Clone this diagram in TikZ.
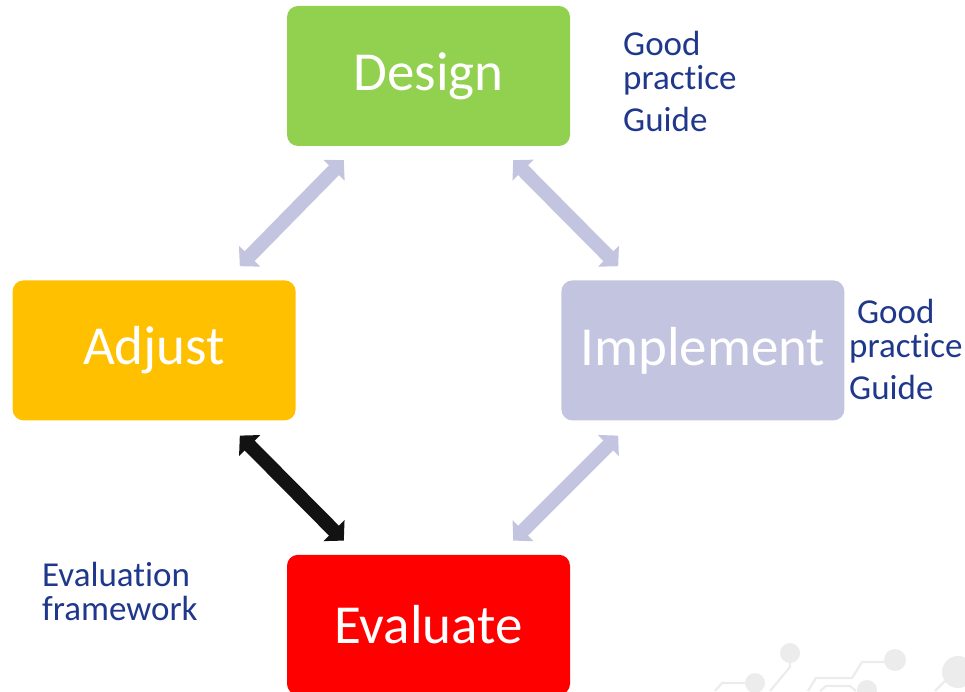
\documentclass[tikz,border=0pt]{standalone}
\usepackage{fontspec}
\setmainfont{Carlito}[Ligatures=NoCommon]
\usetikzlibrary{positioning, arrows.meta}

\definecolor{designgreen}{RGB}{146,208,80}
\definecolor{adjustorange}{RGB}{255,192,0}
\definecolor{implementlilac}{RGB}{195,196,224}
\definecolor{evaluatered}{RGB}{255,0,0}
\definecolor{linklilac}{RGB}{195,197,224}
\definecolor{notesblue}{RGB}{32,56,140}
\definecolor{tracegrey}{RGB}{236,236,236}

\tikzset{
  stage/.style={rectangle, rounded corners=11pt, minimum width=283pt, minimum height=140pt,
    inner sep=0pt, text=white, font=\fontsize{55}{60}\selectfont},
  link/.style={line width=14pt, draw=linklilac,
    {Triangle[length=14pt,width=29pt]}-{Triangle[length=14pt,width=29pt]}},
  note/.style={align=left, text=notesblue, inner sep=0pt, anchor=base west,
    font=\fontsize{35}{34}\selectfont},
  trace/.style={draw=tracegrey, line width=2.2pt},
  pad/.style={fill=tracegrey, draw=none}
}

\begin{document}
\begin{tikzpicture}[x=1pt, y=1pt]
        \useasboundingbox (0,0) rectangle (965,691);

        % faint circuit in the corner
        \draw[trace] (715,0) -- (722,8) -- (745,8);
        \draw[trace] (790,38) -- (790,24) -- (770,0);
        \draw[trace] (808,0) -- (816,13) -- (852,13) -- (862,29) -- (887,29);
        \draw[trace] (820,0) -- (826,5) -- (850,5) -- (856,0);
        \draw[trace] (935,0) -- (945,10);
        \fill[pad] (790,38) circle (10);
        \fill[pad] (895,31) circle (11);
        \fill[pad] (755,8) circle (10);
        \fill[pad] (958,19) circle (16);
        \fill[pad] (867,1) circle (10);

        \node[stage, fill=designgreen] (design) at (428.5,615) {Design};
        \node[stage, fill=adjustorange, below left=134pt and -9pt of design] (adjust) {Adjust};
        \node[stage, fill=implementlilac, below right=134pt and -9pt of design] (implement) {Implement};
        \node[stage, fill=evaluatered, below right=134pt and -9pt of adjust] (evaluate) {Evaluate};

        \draw[link] ([xshift=57pt,yshift=-14pt]design.south west) -- ([xshift=-56pt,yshift=14pt]adjust.north east);
        \draw[link] ([xshift=-57pt,yshift=-14pt]design.south east) -- ([xshift=57pt,yshift=14pt]implement.north west);
        \draw[link, draw=black!93] ([xshift=-56pt,yshift=-15pt]adjust.south east) -- ([xshift=57pt,yshift=14pt]evaluate.north west);
        \draw[link] ([xshift=57pt,yshift=-15pt]implement.south west) -- ([xshift=-57pt,yshift=14pt]evaluate.north east);

        % base west sits on the last line
        \node[note] (guidetop) at (623,559) {Good\\practice\\[8pt]Guide};
        \node[note] (guideright) at (849,291) {\ Good\\practice\\[8pt]Guide};
        \node[note] (framework) at (42,71) {Evaluation\\framework};
    \end{tikzpicture}
\end{document}
